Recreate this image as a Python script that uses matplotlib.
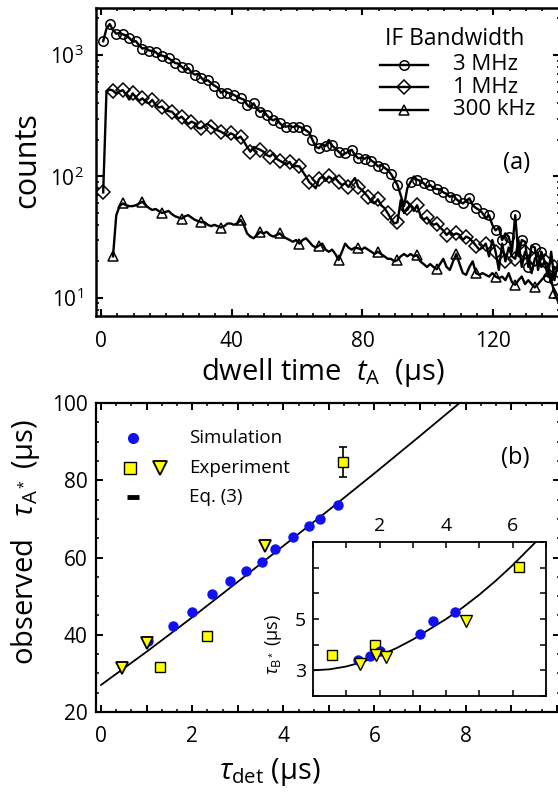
import numpy as np
import matplotlib
matplotlib.use('Agg')
import matplotlib.pyplot as plt
from matplotlib.ticker import MultipleLocator, LogLocator, NullFormatter, FuncFormatter

plt.rcParams['font.family'] = ['Open Sans', 'DejaVu Sans']
plt.rcParams['mathtext.fontset'] = 'custom'
plt.rcParams['mathtext.rm'] = 'Open Sans'
plt.rcParams['mathtext.it'] = 'Open Sans:italic'
plt.rcParams['mathtext.bf'] = 'Open Sans:bold'

# ---------------- panel (a) data ----------------
dwell_time = np.arange(0.7, 140.0, 1.0)   # µs, 1 µs bins

counts_3MHz = [
    1300, 1650, 1800, 1600, 1500, 1520, 1480, 1450, 1380, 1290,
    1300, 1200, 1130, 1150, 1090, 1080, 1060, 1000, 990, 970,
    940, 900, 860, 850, 800, 760, 780, 720, 690, 700,
    650, 610, 620, 590, 560, 540, 490, 510, 490, 480,
    470, 450, 440, 430, 390, 370, 400, 360, 340, 350,
    320, 300, 290, 300, 275, 260, 257, 262, 255, 260,
    257, 250, 240, 230, 200, 175, 171, 185, 178, 200,
    180, 170, 160, 150, 155, 160, 166, 150, 141, 143,
    140, 146, 135, 130, 121, 125, 118, 113, 105, 95,
    85, 70, 57, 80, 90, 100, 94, 92, 88, 82,
    85, 80, 79, 78, 74, 72, 68, 70, 65, 62,
    60, 63, 66, 58, 55, 53, 50, 45, 48, 40,
    36, 38, 30, 34, 32, 24, 48, 22, 30, 29,
    18, 27, 26, 17, 24, 20, 15, 24, 14, 19]

counts_1MHz = [
    74, 500, 520, 510, 480, 500, 515, 470, 430, 484,
    450, 420, 440, 410, 400, 427, 390, 370, 376, 350,
    345, 342, 320, 300, 311, 290, 270, 283, 275, 250,
    249, 265, 270, 257, 245, 240, 234, 225, 215, 227,
    220, 205, 213, 195, 175, 160, 175, 170, 166, 160,
    150, 146, 155, 140, 135, 130, 125, 132, 120, 122,
    121, 110, 100, 90, 85, 80, 95, 100, 92, 100,
    95, 97, 90, 85, 88, 82, 90, 97, 82, 78,
    73, 68, 62, 60, 65, 58, 55, 50, 45, 41,
    42, 64, 50, 55, 58, 52, 58, 48, 44, 46,
    42, 40, 41, 38, 36, 33, 35, 33, 34, 33,
    30, 32, 31, 29, 27, 25, 26, 28, 22, 30,
    24, 17, 28, 20, 26, 22, 21, 30, 18, 24,
    21, 16, 21, 23, 18, 20, 19, 14, 18, 17]

counts_300kHz = [np.nan, np.nan, np.nan,
    22, 48, 57, 60, 58, 57, 57,
    58, 60, 62, 58, 55, 53, 54, 52, 50, 51,
    52, 49, 47, 46, 45, 47, 48, 46, 44, 43,
    42, 42, 40, 39, 40, 39, 38, 39, 41, 41,
    40, 41, 44, 40, 34, 32, 31, 33, 35, 34,
    35, 33, 32, 33, 34, 32, 31, 30, 29, 30,
    28, 30, 31, 29, 27, 26, 27, 28, 25, 24,
    25, 23, 20.5, 24, 28, 26, 25, 26, 25.6, 25,
    26, 25, 24, 23, 24, 23, 22, 21, 21, 20,
    20.5, 22, 23, 22, 23, 22, 22.5, 20, 19, 18,
    19, 18, 17.2, 19, 21, 18, 17, 20, 23, 19,
    16, 15.5, 18, 20, 16, 15.5, 16, 15.5, 15, 16,
    15, 14.5, 15, 14, 16, 13.5, 12.8, 14, 15, 13,
    14, 13, 12.2, 13, 14, 15, 15.5, 14, 11, 9.5]

bandwidth_labels = ['3 MHz', '1 MHz', '300 kHz']

# ---------------- panel (b) data ----------------
sim_tau_det = [1.04, 1.59, 1.99, 2.44, 2.83, 3.19, 3.53, 3.82, 4.22, 4.57, 4.80, 5.19]
sim_tau_A = [38.3, 42.3, 45.8, 50.5, 53.8, 56.6, 58.9, 62.1, 65.3, 68.1, 70.0, 73.5]
exp_sq_tau_det = [1.29, 2.32, 5.31]
exp_sq_tau_A = [31.6, 39.6, 84.8]
exp_sq_err = [0.0, 0.0, 3.9]
exp_tri_tau_det = [0.45, 1.0, 3.6]
exp_tri_tau_A = [31.3, 37.8, 62.9]
eq3_tau_det = [0, 1, 2, 3, 4, 5, 6, 7, 8]
eq3_tau_A = [27.0, 35.6, 44.5, 53.7, 63.0, 72.3, 81.8, 91.5, 101.3]

# inset (tau_B*)
in_sim_x = [1.35, 1.72, 2.02, 3.2, 3.62, 4.28]
in_sim_y = [3.42, 3.55, 3.75, 4.4, 4.92, 5.29]
in_sq_x = [0.58, 1.87, 6.18]
in_sq_y = [3.59, 4.0, 7.01]
in_tri_x = [1.4, 1.9, 2.2, 4.61]
in_tri_y = [3.26, 3.59, 3.52, 4.92]
in_eq_x = [0, 0.5, 1, 1.5, 2, 2.5, 3, 3.5, 4, 4.5, 5, 5.5, 6, 6.5, 7]
in_eq_y = [3.0, 3.04, 3.15, 3.33, 3.58, 3.86, 4.2, 4.6, 5.0, 5.45, 5.95, 6.5, 7.1, 7.75, 8.4]

legend_b = ['Simulation', 'Experiment', 'Eq. (3)']

BLUE = '#1010f0'
YELLOW = '#ffff00'

W, H = 558, 796
fig = plt.figure(figsize=(W / 100, H / 100), dpi=100)


def ax_rect(x0, y0, x1, y1):
    return [x0 / W, 1 - y1 / H, (x1 - x0) / W, (y1 - y0) / H]


# ================= panel (a) =================
ax1 = fig.add_axes(ax_rect(96, 8, 560, 316))
ax1.set_yscale('log')
ax1.set_xlim(-1.5, 140.4)
ax1.set_ylim(7.1, 2440)

styles = [dict(marker='o', ms=6.8, markevery=2),
          dict(marker='D', ms=6.8, markevery=3),
          dict(marker='^', ms=7.8, markevery=[3] + list(range(6, len(dwell_time), 6)))]
series = [counts_3MHz, counts_1MHz, counts_300kHz]
for vals, st in zip(series, styles):
    ax1.plot(dwell_time, vals, color='k', lw=1.7, mfc='none', mec='k', mew=1.1,
             marker=st['marker'], ms=st['ms'], markevery=st['markevery'])

for sp in ax1.spines.values():
    sp.set_linewidth(1.8)
ax1.xaxis.set_major_locator(MultipleLocator(40))
ax1.xaxis.set_minor_locator(MultipleLocator(5))
ax1.yaxis.set_major_locator(LogLocator(base=10, numticks=10))
ax1.yaxis.set_minor_locator(LogLocator(base=10, subs=np.arange(2, 10), numticks=10))
ax1.yaxis.set_minor_formatter(NullFormatter())
ax1.tick_params(which='both', direction='in', top=True, right=True, labelsize=15)
ax1.tick_params(which='major', length=5, width=1.5)
ax1.tick_params(which='minor', length=2.5, width=1.2)
ax1.tick_params(axis='x', pad=11)
ax1.tick_params(axis='y', pad=9)

ax1.text(-0.149, 0.506, 'counts', transform=ax1.transAxes, rotation=90,
         ha='center', va='center', fontsize=22)
ax1.text(0.489, -0.182, r'dwell time  $t_{\mathrm{A}}$  (µs)', transform=ax1.transAxes,
         ha='center', va='center', fontsize=21)
ax1.text(0.907, 0.497, '(a)', transform=ax1.transAxes, ha='center', va='center', fontsize=17)

# legend (a)
ax1.text(0.774, 0.899, 'IF Bandwidth', transform=ax1.transAxes, ha='center', va='center',
         fontsize=16.5)
row_y = [0.815, 0.742, 0.669]
for lab, st, ry in zip(bandwidth_labels, styles, row_y):
    ax1.plot([0.612, 0.716], [ry, ry], transform=ax1.transAxes, color='k', lw=1.7,
             clip_on=False)
    ax1.plot([0.664], [ry], transform=ax1.transAxes, marker=st['marker'], ms=st['ms'],
             mfc='none', mec='k', mew=1.1, clip_on=False)
    ax1.text(0.769, ry, lab, transform=ax1.transAxes, ha='left', va='center', fontsize=16)

# ================= panel (b) =================
ax2 = fig.add_axes(ax_rect(96, 403, 560, 712))
ax2.set_xlim(-0.11, 10.07)
ax2.set_ylim(20, 100)

ax2.plot(eq3_tau_det, eq3_tau_A, color='k', lw=1.3, zorder=2)
ax2.plot(sim_tau_det, sim_tau_A, 'o', color=BLUE, ms=7.5, mec='none', zorder=3)
ax2.errorbar(exp_sq_tau_det, exp_sq_tau_A, yerr=exp_sq_err, fmt='none', ecolor='k',
             elinewidth=1.2, capsize=3, capthick=1.2, zorder=3)
ax2.plot(exp_sq_tau_det, exp_sq_tau_A, 's', color=YELLOW, mec='k', mew=1.0, ms=7.5, zorder=4)
ax2.plot(exp_tri_tau_det, exp_tri_tau_A, 'v', color=YELLOW, mec='k', mew=1.3, ms=9, zorder=5)

for sp in ax2.spines.values():
    sp.set_linewidth(1.6)
ax2.xaxis.set_major_locator(MultipleLocator(1))
ax2.xaxis.set_minor_locator(MultipleLocator(1 / 3))
ax2.xaxis.set_major_formatter(FuncFormatter(
    lambda v, p: f'{v:.0f}' if round(v) in (0, 2, 4, 6, 8) else ''))
ax2.yaxis.set_major_locator(MultipleLocator(20))
ax2.yaxis.set_minor_locator(MultipleLocator(5))
ax2.tick_params(which='both', direction='in', top=True, right=True, labelsize=15)
ax2.tick_params(which='major', length=5, width=1.4)
ax2.tick_params(which='minor', length=2.5, width=1.1)
ax2.tick_params(axis='x', pad=10)
ax2.tick_params(axis='y', pad=6)

ax2.text(-0.153, 0.55, r'observed   $\tau_{\mathrm{A}^*}$ (µs)', transform=ax2.transAxes,
         rotation=90, ha='center', va='center', fontsize=21)
ax2.text(0.375, -0.195, r'$\tau_{\mathrm{det}}$ (µs)', transform=ax2.transAxes,
         ha='center', va='center', fontsize=21)
ax2.text(0.903, 0.822, '(b)', transform=ax2.transAxes, ha='center', va='center', fontsize=17)

# legend (b)
lx, ly = 0.2004, [0.887, 0.790, 0.696]
ax2.plot([0.0797], [ly[0]], 'o', color=BLUE, ms=8, mec='none', transform=ax2.transAxes)
ax2.plot([0.0733], [ly[1]], 's', color=YELLOW, mec='k', mew=1.0, ms=8, transform=ax2.transAxes)
ax2.plot([0.138], [ly[1]], 'v', color=YELLOW, mec='k', mew=1.3, ms=9.5, transform=ax2.transAxes)
ax2.plot([0.067, 0.093], [ly[2], ly[2]], color='k', lw=3.5, solid_capstyle='butt',
         transform=ax2.transAxes)
for lab, yy in zip(legend_b, ly):
    ax2.text(lx, yy, lab, transform=ax2.transAxes, ha='left', va='center', fontsize=13.5)

# ================= inset =================
ax3 = fig.add_axes(ax_rect(313, 542, 546, 696))
ax3.set_xlim(0, 7)
ax3.set_ylim(2, 8)
ax3.plot(in_eq_x, in_eq_y, color='k', lw=1.3, zorder=2)
ax3.plot(in_sq_x, in_sq_y, 's', color=YELLOW, mec='k', mew=1.0, ms=7.5, zorder=3)
ax3.plot(in_sim_x, in_sim_y, 'o', color=BLUE, ms=7.5, mec='none', zorder=4)
ax3.plot(in_tri_x, in_tri_y, 'v', color=YELLOW, mec='k', mew=1.0, ms=8, zorder=5)
for sp in ax3.spines.values():
    sp.set_linewidth(1.3)
ax3.xaxis.set_major_locator(MultipleLocator(1))
ax3.yaxis.set_major_locator(MultipleLocator(1))
ax3.xaxis.set_major_formatter(FuncFormatter(lambda v, p: f'{v:.0f}' if round(v) in (2, 4, 6) else ''))
ax3.yaxis.set_major_formatter(FuncFormatter(lambda v, p: f'{v:.0f}' if round(v) in (3, 5) else ''))
ax3.tick_params(which='both', direction='in', top=True, bottom=True, left=True, right=True,
                labeltop=True, labelbottom=False, labelsize=14, length=4, width=1.1, pad=5)
fig.text(274 / W, 1 - 645 / H, r'$\tau_{\mathrm{B}^*}$ (µs)', rotation=90, ha='center',
         va='center', fontsize=13)

fig.savefig('out.png', dpi=100)
